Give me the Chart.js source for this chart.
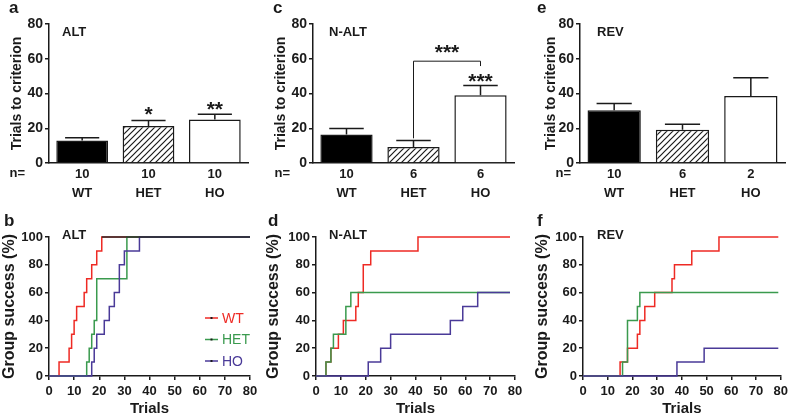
<!DOCTYPE html>
<html lang="en">
<head>
<meta charset="UTF-8" />
<title>Trials to criterion and group success</title>
<script src="https://cdn.jsdelivr.net/npm/chart.js@4.4.0/dist/chart.umd.min.js"></script>
<style>
  body { margin: 0; background: #fff; }
  #fig { position: relative; width: 792px; height: 418px; }
  canvas { position: absolute; }
</style>
</head>
<body>
<div id="fig">
  <canvas id="pa" width="264" height="205" style="left:0;top:0"></canvas>
  <canvas id="pc" width="264" height="205" style="left:264px;top:0"></canvas>
  <canvas id="pe" width="264" height="205" style="left:528px;top:0"></canvas>
  <canvas id="pb" width="264" height="208" style="left:0;top:210px"></canvas>
  <canvas id="pd" width="264" height="208" style="left:264px;top:210px"></canvas>
  <canvas id="pf" width="264" height="208" style="left:528px;top:210px"></canvas>
</div>
<script>
// ---- data ----
const groups = ['WT', 'HET', 'HO'];

const altN = ['10', '10', '10'];
const altMean = [13, 21.3, 25];
const altSem = [1.6, 3.2, 3];

const naltN = ['10', '6', '6'];
const naltMean = [16.4, 9.2, 39];
const naltSem = [3.4, 3.8, 5.6];

const revN = ['10', '6', '2'];
const revMean = [30.4, 19.2, 38.5];
const revSem = [3.8, 3.1, 10.5];

// cumulative % of group reaching criterion: [trial, percent]
const altWT = [[0,0],[4,10],[8,20],[9,30],[10,40],[11,50],[14,60],[15,70],[17,80],[19,90],[21,100],[80,100]];
const altHET = [[0,0],[15,10],[16,20],[17,30],[18,40],[19,70],[31,100],[80,100]];
const altHO = [[0,0],[17,10],[18,20],[19,30],[22,40],[24,50],[26,60],[28,80],[30,90],[36,100],[80,100]];
const altAll = [[21,100],[80,100]];

const naltWT = [[0,0],[4,10],[6,20],[9,30],[11,40],[16,50],[17,60],[19,80],[22,90],[41,100],[78,100]];
const naltHET = [[0,0],[4,10],[6,20],[7,30],[12,50],[14,60],[78,60]];
const naltHO = [[0,0],[21,10],[26,20],[30,30],[54,40],[59,50],[65,60],[78,60]];

const revWT = [[0,0],[15,10],[18,20],[22,30],[23,40],[25,50],[29,60],[36,70],[37,80],[44,90],[55,100],[79,100]];
const revHET = [[0,0],[16,10],[18,40],[22,50],[23,60],[79,60]];
const revHO = [[0,0],[38,10],[49,20],[79,20]];

// ---- styling ----
const FONT = "'Liberation Sans', Arial, sans-serif";
const INK = '#1a1a1a';
const RED = '#ee2a24', GREEN = '#3a9a4e', PURPLE = '#4a3a98';
Chart.defaults.font.family = FONT;
Chart.defaults.color = INK;

function makeHatch() {
  const p = document.createElement('canvas');
  p.width = 6; p.height = 6;
  const g = p.getContext('2d');
  g.fillStyle = '#fff';
  g.fillRect(0, 0, 6, 6);
  g.strokeStyle = INK;
  g.lineWidth = 1.2;
  g.beginPath();
  g.moveTo(0, 6); g.lineTo(6, 0);
  g.moveTo(-1, 1); g.lineTo(1, -1);
  g.moveTo(5, 7); g.lineTo(7, 5);
  g.stroke();
  return g.createPattern(p, 'repeat');
}

// text, error bars, stars, brackets, legend
const extras = {
  id: 'extras',
  afterDatasetsDraw(chart, args, o) {
    const c = chart.ctx, ys = chart.scales.y;
    c.save();
    c.fillStyle = INK;
    c.strokeStyle = INK;
    if (o.mean) {
      const bars = chart.getDatasetMeta(0).data;
      c.lineWidth = 1.5;
      bars.forEach((b, i) => {
        const top = ys.getPixelForValue(o.mean[i] + o.sem[i]);
        const half = b.width * 0.33;
        c.beginPath();
        c.moveTo(b.x, b.y); c.lineTo(b.x, top);
        c.moveTo(b.x - half, top); c.lineTo(b.x + half, top);
        c.stroke();
      });
      (o.stars || []).forEach(s => {
        const x = s.between ? (bars[s.between[0]].x + bars[s.between[1]].x) / 2 : bars[s.i].x;
        c.font = 'bold 21px ' + FONT;
        c.textAlign = 'center';
        c.textBaseline = 'alphabetic';
        c.fillText(s.text, x, ys.getPixelForValue(s.v) + 21 * 0.6);
      });
      if (o.bracket) {
        const k = o.bracket;
        const x1 = bars[k.from].x, x2 = bars[k.to].x;
        c.lineWidth = 1;
        c.beginPath();
        c.moveTo(x1, ys.getPixelForValue(k.fromV));
        c.lineTo(x1, ys.getPixelForValue(k.v));
        c.lineTo(x2, ys.getPixelForValue(k.v));
        c.lineTo(x2, ys.getPixelForValue(k.toV));
        c.stroke();
      }
    }
    if (o.legend) {
      const L = o.legend;
      c.font = '14px ' + FONT;
      c.textAlign = 'left';
      c.textBaseline = 'middle';
      chart.data.datasets.filter(d => groups.includes(d.label)).forEach((d, i) => {
        const y = L.y + i * L.gap;
        c.strokeStyle = d.borderColor;
        c.lineWidth = 1.5;
        c.beginPath();
        c.moveTo(L.x, y); c.lineTo(L.x + 13, y);
        c.stroke();
        c.fillStyle = INK;
        c.fillRect(L.x + 5.5, y - 1, 2, 2);
        c.fillStyle = d.borderColor;
        c.fillText(d.label, L.x + 17, y + 1);
      });
    }
    c.fillStyle = INK;
    c.textBaseline = 'middle';
    c.textAlign = 'left';
    c.font = 'bold 17px ' + FONT;
    c.fillText(o.letter, o.letterX, o.letterY);
    c.font = 'bold 13px ' + FONT;
    c.fillText(o.title, o.titleX, o.titleY);
    if (o.nLabel) {
      c.textAlign = 'right';
      c.fillText('n=', o.nX, 173);
    }
    c.restore();
  }
};
Chart.register(extras);

function barPanel(id, n, mean, sem, p) {
  const W = 264, H = 205, top = 24, bottom = 163;
  new Chart(document.getElementById(id), {
    type: 'bar',
    data: {
      labels: n.map((v, i) => [v, groups[i]]),
      datasets: [{
        data: mean,
        backgroundColor: ['#000', makeHatch(), '#fff'],
        borderColor: INK,
        borderWidth: 1.5,
        barPercentage: 0.78,
        categoryPercentage: 1
      }]
    },
    options: {
      responsive: false,
      animation: false,
      events: [],
      layout: { padding: { top: top, right: W - p.right, left: 0, bottom: 0 } },
      plugins: {
        legend: { display: false },
        tooltip: { enabled: false },
        extras: Object.assign({ mean: mean, sem: sem, nLabel: true }, p.extras)
      },
      scales: {
        x: {
          offset: true,
          grid: { display: false, drawTicks: false },
          border: { display: true, color: INK, width: 1.5 },
          ticks: { color: INK, padding: 2, maxRotation: 0, font: { size: 13, weight: 'bold', lineHeight: 1.45 } },
          afterFit: s => { s.height = H - bottom; }
        },
        y: {
          min: 0, max: 80,
          ticks: { stepSize: 20, color: INK, padding: 2, font: { size: 14, weight: 'bold' } },
          grid: { drawOnChartArea: false, tickLength: 4, color: INK, lineWidth: 1.5 },
          border: { color: INK, width: 1.5 },
          title: { display: true, text: 'Trials to criterion', color: INK, font: { size: 14, weight: 'bold' }, padding: { top: p.titlePad, bottom: 0 } },
          afterFit: s => { s.width = p.left; }
        }
      }
    }
  });
}

function xy(pairs) { return pairs.map(q => ({ x: q[0], y: q[1] })); }

function stepPanel(id, wt, het, ho, all, p) {
  const W = 264, H = 208, top = 27, bottom = 166;
  const line = (label, pts, color, order) => ({
    label: label, data: xy(pts), borderColor: color, backgroundColor: color,
    borderWidth: 1.5, pointRadius: 0, stepped: true, fill: false, order: order, clip: false
  });
  const datasets = [line('WT', wt, RED, 3), line('HET', het, GREEN, 2), line('HO', ho, PURPLE, 1)];
  if (all) datasets.push(line('all', all, '#2a2a2a', 0));
  new Chart(document.getElementById(id), {
    type: 'line',
    data: { datasets: datasets },
    options: {
      responsive: false,
      animation: false,
      events: [],
      layout: { padding: { top: top, right: W - p.right, left: 0, bottom: 0 } },
      plugins: {
        legend: { display: false },
        tooltip: { enabled: false },
        extras: p.extras
      },
      scales: {
        x: {
          type: 'linear', min: 0, max: 80,
          ticks: { stepSize: 10, color: INK, padding: 4, maxRotation: 0, font: { size: 13, weight: 'bold' } },
          grid: { drawOnChartArea: false, tickLength: 4, color: INK, lineWidth: 1.5 },
          border: { color: INK, width: 1.5 },
          title: { display: true, text: 'Trials', color: INK, font: { size: 15, weight: 'bold' }, padding: { top: 0, bottom: 0 } },
          afterFit: s => { s.height = H - bottom; }
        },
        y: {
          min: 0, max: 100,
          ticks: { stepSize: 20, color: INK, padding: 2, font: { size: 13, weight: 'bold' } },
          grid: { drawOnChartArea: false, tickLength: 4, color: INK, lineWidth: 1.5 },
          border: { color: INK, width: 1.5 },
          title: { display: true, text: 'Group success (%)', color: INK, font: { size: 16, weight: 'bold' }, padding: { top: p.titlePad, bottom: 0 } },
          afterFit: s => { s.width = p.left; }
        }
      }
    }
  });
}

barPanel('pa', altN, altMean, altSem, {
  left: 49, right: 248, titlePad: 8.6,
  extras: { letter: 'a', letterX: 9, letterY: 8, title: 'ALT', titleX: 62, titleY: 32, nX: 25,
    stars: [{ i: 1, v: 31.7, text: '*' }, { i: 2, v: 34.5, text: '**' }] }
});
barPanel('pc', naltN, naltMean, naltSem, {
  left: 49, right: 250, titlePad: 8.6,
  extras: { letter: 'c', letterX: 9, letterY: 8, title: 'N-ALT', titleX: 65, titleY: 32, nX: 26,
    stars: [{ between: [1, 2], v: 66.9, text: '***' }, { i: 2, v: 50.6, text: '***' }],
    bracket: { from: 1, to: 2, v: 58.6, fromV: 14.2, toV: 55.8 } }
});
barPanel('pe', revN, revMean, revSem, {
  left: 52, right: 257, titlePad: 14.6,
  extras: { letter: 'e', letterX: 9, letterY: 8, title: 'REV', titleX: 69, titleY: 32, nX: 43 }
});

stepPanel('pb', altWT, altHET, altHO, altAll, {
  left: 49, right: 250, titlePad: 0,
  extras: { letter: 'b', letterX: 4, letterY: 11, title: 'ALT', titleX: 62, titleY: 25,
    legend: { x: 205, y: 108, gap: 21.5 } }
});
stepPanel('pd', naltWT, naltHET, naltHO, null, {
  left: 52, right: 251, titlePad: 0.4,
  extras: { letter: 'd', letterX: 4, letterY: 11, title: 'N-ALT', titleX: 65, titleY: 25 }
});
stepPanel('pf', revWT, revHET, revHO, null, {
  left: 55, right: 255, titlePad: 5.4,
  extras: { letter: 'f', letterX: 9, letterY: 11, title: 'REV', titleX: 69, titleY: 25 }
});
</script>
</body>
</html>
